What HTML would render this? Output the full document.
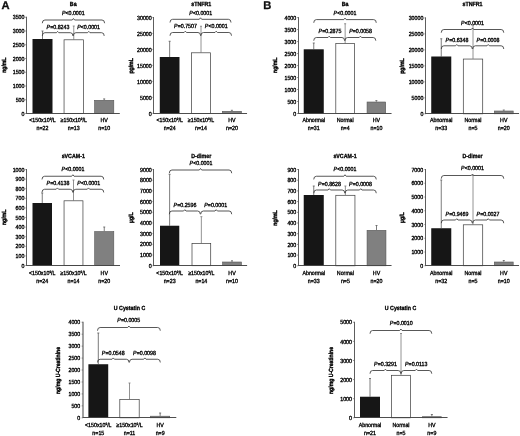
<!DOCTYPE html>
<html><head><meta charset="utf-8"><title>Figure</title>
<style>
html,body{margin:0;padding:0;background:#fff;}
body{width:520px;height:436px;overflow:hidden;}
svg{display:block;font-family:"Liberation Sans",sans-serif;text-rendering:geometricPrecision;}
</style></head><body>
<svg width="520" height="436" viewBox="0 0 520 436">
<defs><filter id="soft" x="0" y="0" width="520" height="436" filterUnits="userSpaceOnUse"><feGaussianBlur stdDeviation="0.25"/></filter></defs>
<rect width="520" height="436" fill="#fff"/>
<g filter="url(#soft)">
<path d="M42.50,39.00 V31.00 M41.50,31.00 H43.50" stroke="#5a5a5a" stroke-width="0.8" fill="none"/>
<rect x="32.50" y="39.00" width="20.00" height="74.50" fill="#141414"/>
<path d="M73.75,39.50 V26.00 M72.75,26.00 H74.75" stroke="#777" stroke-width="0.8" fill="none"/>
<rect x="64.05" y="39.80" width="19.40" height="73.70" fill="#fff" stroke="#3a3a3a" stroke-width="0.7"/>
<path d="M104.20,100.00 V98.90 M103.20,98.90 H105.20" stroke="#5a5a5a" stroke-width="0.8" fill="none"/>
<rect x="94.60" y="100.30" width="19.20" height="13.20" fill="#808080" stroke="#555" stroke-width="0.6"/>
<path d="M26.50,16.75 V113.50" fill="none" stroke="#555" stroke-width="0.95"/>
<path d="M26.05,113.50 H119.80" fill="none" stroke="#444" stroke-width="0.95"/>
<path d="M25.10,113.50 H26.50" stroke="#555" stroke-width="0.6"/>
<text transform="translate(24.50,115.65) scale(0.88,1)" text-anchor="end" font-size="6.0" fill="#000" stroke="#000" stroke-width="0.34">0</text>
<path d="M25.10,99.75 H26.50" stroke="#555" stroke-width="0.6"/>
<text transform="translate(24.50,101.90) scale(0.88,1)" text-anchor="end" font-size="6.0" fill="#000" stroke="#000" stroke-width="0.34">500</text>
<path d="M25.10,86.00 H26.50" stroke="#555" stroke-width="0.6"/>
<text transform="translate(24.50,88.15) scale(0.88,1)" text-anchor="end" font-size="6.0" fill="#000" stroke="#000" stroke-width="0.34">1000</text>
<path d="M25.10,72.25 H26.50" stroke="#555" stroke-width="0.6"/>
<text transform="translate(24.50,74.40) scale(0.88,1)" text-anchor="end" font-size="6.0" fill="#000" stroke="#000" stroke-width="0.34">1500</text>
<path d="M25.10,58.50 H26.50" stroke="#555" stroke-width="0.6"/>
<text transform="translate(24.50,60.65) scale(0.88,1)" text-anchor="end" font-size="6.0" fill="#000" stroke="#000" stroke-width="0.34">2000</text>
<path d="M25.10,44.75 H26.50" stroke="#555" stroke-width="0.6"/>
<text transform="translate(24.50,46.90) scale(0.88,1)" text-anchor="end" font-size="6.0" fill="#000" stroke="#000" stroke-width="0.34">2500</text>
<path d="M25.10,31.00 H26.50" stroke="#555" stroke-width="0.6"/>
<text transform="translate(24.50,33.15) scale(0.88,1)" text-anchor="end" font-size="6.0" fill="#000" stroke="#000" stroke-width="0.34">3000</text>
<path d="M25.10,17.25 H26.50" stroke="#555" stroke-width="0.6"/>
<text transform="translate(24.50,19.40) scale(0.88,1)" text-anchor="end" font-size="6.0" fill="#000" stroke="#000" stroke-width="0.34">3500</text>
<text transform="translate(73.20,5.80) scale(0.88,1)" text-anchor="middle" font-size="6.0" font-weight="bold" fill="#000" stroke="#000" stroke-width="0.32">Ba</text>
<text transform="translate(5.60,65.20) rotate(-90) scale(0.85,1)" text-anchor="middle" font-size="6.0" font-weight="bold" fill="#000" stroke="#000" stroke-width="0.42">ng/mL</text>
<text transform="translate(42.50,122.40) scale(0.88,1)" text-anchor="middle" font-size="6.0" fill="#000" stroke="#000" stroke-width="0.34">&lt;150x10<tspan font-size="3.5" dy="-2.0">9</tspan><tspan dy="2.0">/L</tspan></text>
<text transform="translate(42.50,130.10) scale(0.88,1)" text-anchor="middle" font-size="6.0" fill="#000" stroke="#000" stroke-width="0.34">n=22</text>
<text transform="translate(73.75,122.40) scale(0.88,1)" text-anchor="middle" font-size="6.0" fill="#000" stroke="#000" stroke-width="0.34">≥150x10<tspan font-size="3.5" dy="-2.0">9</tspan><tspan dy="2.0">/L</tspan></text>
<text transform="translate(73.75,130.10) scale(0.88,1)" text-anchor="middle" font-size="6.0" fill="#000" stroke="#000" stroke-width="0.34">n=13</text>
<text transform="translate(104.20,122.40) scale(0.88,1)" text-anchor="middle" font-size="6.0" fill="#000" stroke="#000" stroke-width="0.34">HV</text>
<text transform="translate(104.20,130.10) scale(0.88,1)" text-anchor="middle" font-size="6.0" fill="#000" stroke="#000" stroke-width="0.34">n=10</text>
<path d="M42.30,23.20 Q42.30,20.00 44.90,20.00 L72.25,20.00 L73.45,18.50 L74.65,20.00 L102.00,20.00 Q104.60,20.00 104.60,23.20" fill="none" stroke="#3a3a3a" stroke-width="0.85"/>
<text transform="translate(73.30,15.00) scale(0.88,1)" text-anchor="middle" font-size="6.0" fill="#000" stroke="#000" stroke-width="0.34"><tspan font-style="italic">P</tspan>&lt;0.0001</text>
<path d="M42.30,35.90 Q42.30,32.70 44.90,32.70 L56.40,32.70 L57.60,31.40 L58.80,32.70 L70.30,32.70 Q72.90,32.70 72.90,35.90" fill="none" stroke="#3a3a3a" stroke-width="0.85"/>
<text transform="translate(58.00,28.50) scale(0.88,1)" text-anchor="middle" font-size="6.0" fill="#000" stroke="#000" stroke-width="0.34"><tspan font-style="italic">P</tspan>=0.8243</text>
<path d="M73.30,35.90 Q73.30,32.70 75.90,32.70 L87.55,32.70 L88.75,31.40 L89.95,32.70 L101.60,32.70 Q104.20,32.70 104.20,35.90" fill="none" stroke="#3a3a3a" stroke-width="0.85"/>
<text transform="translate(88.60,28.50) scale(0.88,1)" text-anchor="middle" font-size="6.0" fill="#000" stroke="#000" stroke-width="0.34"><tspan font-style="italic">P</tspan>&lt;0.0001</text>
<path d="M169.65,57.00 V41.25 M168.65,41.25 H170.65" stroke="#5a5a5a" stroke-width="0.8" fill="none"/>
<rect x="159.80" y="57.00" width="19.70" height="56.40" fill="#141414"/>
<path d="M201.00,52.50 V26.25 M200.00,26.25 H202.00" stroke="#777" stroke-width="0.8" fill="none"/>
<rect x="191.55" y="52.80" width="18.90" height="60.60" fill="#fff" stroke="#3a3a3a" stroke-width="0.7"/>
<path d="M231.88,111.00 V110.30 M230.88,110.30 H232.88" stroke="#5a5a5a" stroke-width="0.8" fill="none"/>
<rect x="222.30" y="111.30" width="19.15" height="2.10" fill="#808080" stroke="#555" stroke-width="0.6"/>
<path d="M153.50,17.00 V113.50" fill="none" stroke="#555" stroke-width="0.95"/>
<path d="M153.05,113.50 H247.05" fill="none" stroke="#444" stroke-width="0.95"/>
<path d="M152.35,113.40 H153.75" stroke="#555" stroke-width="0.6"/>
<text transform="translate(151.75,115.55) scale(0.88,1)" text-anchor="end" font-size="6.0" fill="#000" stroke="#000" stroke-width="0.34">0</text>
<path d="M152.35,97.42 H153.75" stroke="#555" stroke-width="0.6"/>
<text transform="translate(151.75,99.57) scale(0.88,1)" text-anchor="end" font-size="6.0" fill="#000" stroke="#000" stroke-width="0.34">5000</text>
<path d="M152.35,81.43 H153.75" stroke="#555" stroke-width="0.6"/>
<text transform="translate(151.75,83.58) scale(0.88,1)" text-anchor="end" font-size="6.0" fill="#000" stroke="#000" stroke-width="0.34">10000</text>
<path d="M152.35,65.45 H153.75" stroke="#555" stroke-width="0.6"/>
<text transform="translate(151.75,67.60) scale(0.88,1)" text-anchor="end" font-size="6.0" fill="#000" stroke="#000" stroke-width="0.34">15000</text>
<path d="M152.35,49.47 H153.75" stroke="#555" stroke-width="0.6"/>
<text transform="translate(151.75,51.62) scale(0.88,1)" text-anchor="end" font-size="6.0" fill="#000" stroke="#000" stroke-width="0.34">20000</text>
<path d="M152.35,33.48 H153.75" stroke="#555" stroke-width="0.6"/>
<text transform="translate(151.75,35.63) scale(0.88,1)" text-anchor="end" font-size="6.0" fill="#000" stroke="#000" stroke-width="0.34">25000</text>
<path d="M152.35,17.50 H153.75" stroke="#555" stroke-width="0.6"/>
<text transform="translate(151.75,19.65) scale(0.88,1)" text-anchor="end" font-size="6.0" fill="#000" stroke="#000" stroke-width="0.34">30000</text>
<text transform="translate(201.25,6.00) scale(0.88,1)" text-anchor="middle" font-size="6.0" font-weight="bold" fill="#000" stroke="#000" stroke-width="0.32">sTNFR1</text>
<text transform="translate(133.40,65.90) rotate(-90) scale(0.85,1)" text-anchor="middle" font-size="6.0" font-weight="bold" fill="#000" stroke="#000" stroke-width="0.42">pg/mL</text>
<text transform="translate(169.65,122.10) scale(0.88,1)" text-anchor="middle" font-size="6.0" fill="#000" stroke="#000" stroke-width="0.34">&lt;150x10<tspan font-size="3.5" dy="-2.0">9</tspan><tspan dy="2.0">/L</tspan></text>
<text transform="translate(169.65,129.80) scale(0.88,1)" text-anchor="middle" font-size="6.0" fill="#000" stroke="#000" stroke-width="0.34">n=24</text>
<text transform="translate(201.00,122.10) scale(0.88,1)" text-anchor="middle" font-size="6.0" fill="#000" stroke="#000" stroke-width="0.34">≥150x10<tspan font-size="3.5" dy="-2.0">9</tspan><tspan dy="2.0">/L</tspan></text>
<text transform="translate(201.00,129.80) scale(0.88,1)" text-anchor="middle" font-size="6.0" fill="#000" stroke="#000" stroke-width="0.34">n=14</text>
<text transform="translate(231.88,122.10) scale(0.88,1)" text-anchor="middle" font-size="6.0" fill="#000" stroke="#000" stroke-width="0.34">HV</text>
<text transform="translate(231.88,129.80) scale(0.88,1)" text-anchor="middle" font-size="6.0" fill="#000" stroke="#000" stroke-width="0.34">n=20</text>
<path d="M170.00,22.50 Q170.00,19.30 172.60,19.30 L199.30,19.30 L200.50,17.80 L201.70,19.30 L228.40,19.30 Q231.00,19.30 231.00,22.50" fill="none" stroke="#3a3a3a" stroke-width="0.85"/>
<text transform="translate(200.75,14.60) scale(0.88,1)" text-anchor="middle" font-size="6.0" fill="#000" stroke="#000" stroke-width="0.34"><tspan font-style="italic">P</tspan>&lt;0.0001</text>
<path d="M170.00,35.70 Q170.00,32.50 172.60,32.50 L184.10,32.50 L185.30,31.20 L186.50,32.50 L198.00,32.50 Q200.60,32.50 200.60,35.70" fill="none" stroke="#3a3a3a" stroke-width="0.85"/>
<text transform="translate(185.50,28.10) scale(0.88,1)" text-anchor="middle" font-size="6.0" fill="#000" stroke="#000" stroke-width="0.34"><tspan font-style="italic">P</tspan>=0.7507</text>
<path d="M200.90,35.70 Q200.90,32.50 203.50,32.50 L215.00,32.50 L216.20,31.20 L217.40,32.50 L228.90,32.50 Q231.50,32.50 231.50,35.70" fill="none" stroke="#3a3a3a" stroke-width="0.85"/>
<text transform="translate(216.25,28.10) scale(0.88,1)" text-anchor="middle" font-size="6.0" fill="#000" stroke="#000" stroke-width="0.34"><tspan font-style="italic">P</tspan>&lt;0.0001</text>
<path d="M313.75,49.30 V43.00 M312.75,43.00 H314.75" stroke="#5a5a5a" stroke-width="0.8" fill="none"/>
<rect x="303.75" y="49.30" width="20.00" height="64.20" fill="#141414"/>
<path d="M345.15,43.30 V23.75 M344.15,23.75 H346.15" stroke="#777" stroke-width="0.8" fill="none"/>
<rect x="335.80" y="43.60" width="18.70" height="69.90" fill="#fff" stroke="#3a3a3a" stroke-width="0.7"/>
<path d="M376.38,101.70 V100.60 M375.38,100.60 H377.38" stroke="#5a5a5a" stroke-width="0.8" fill="none"/>
<rect x="367.05" y="102.00" width="18.65" height="11.50" fill="#808080" stroke="#555" stroke-width="0.6"/>
<path d="M298.50,17.10 V113.50" fill="none" stroke="#555" stroke-width="0.95"/>
<path d="M298.05,113.50 H391.55" fill="none" stroke="#444" stroke-width="0.95"/>
<path d="M296.85,113.50 H298.25" stroke="#555" stroke-width="0.6"/>
<text transform="translate(296.25,115.65) scale(0.88,1)" text-anchor="end" font-size="6.0" fill="#000" stroke="#000" stroke-width="0.34">0</text>
<path d="M296.85,101.51 H298.25" stroke="#555" stroke-width="0.6"/>
<text transform="translate(296.25,103.66) scale(0.88,1)" text-anchor="end" font-size="6.0" fill="#000" stroke="#000" stroke-width="0.34">500</text>
<path d="M296.85,89.53 H298.25" stroke="#555" stroke-width="0.6"/>
<text transform="translate(296.25,91.68) scale(0.88,1)" text-anchor="end" font-size="6.0" fill="#000" stroke="#000" stroke-width="0.34">1000</text>
<path d="M296.85,77.54 H298.25" stroke="#555" stroke-width="0.6"/>
<text transform="translate(296.25,79.69) scale(0.88,1)" text-anchor="end" font-size="6.0" fill="#000" stroke="#000" stroke-width="0.34">1500</text>
<path d="M296.85,65.55 H298.25" stroke="#555" stroke-width="0.6"/>
<text transform="translate(296.25,67.70) scale(0.88,1)" text-anchor="end" font-size="6.0" fill="#000" stroke="#000" stroke-width="0.34">2000</text>
<path d="M296.85,53.56 H298.25" stroke="#555" stroke-width="0.6"/>
<text transform="translate(296.25,55.71) scale(0.88,1)" text-anchor="end" font-size="6.0" fill="#000" stroke="#000" stroke-width="0.34">2500</text>
<path d="M296.85,41.58 H298.25" stroke="#555" stroke-width="0.6"/>
<text transform="translate(296.25,43.73) scale(0.88,1)" text-anchor="end" font-size="6.0" fill="#000" stroke="#000" stroke-width="0.34">3000</text>
<path d="M296.85,29.59 H298.25" stroke="#555" stroke-width="0.6"/>
<text transform="translate(296.25,31.74) scale(0.88,1)" text-anchor="end" font-size="6.0" fill="#000" stroke="#000" stroke-width="0.34">3500</text>
<path d="M296.85,17.60 H298.25" stroke="#555" stroke-width="0.6"/>
<text transform="translate(296.25,19.75) scale(0.88,1)" text-anchor="end" font-size="6.0" fill="#000" stroke="#000" stroke-width="0.34">4000</text>
<text transform="translate(345.00,5.80) scale(0.88,1)" text-anchor="middle" font-size="6.0" font-weight="bold" fill="#000" stroke="#000" stroke-width="0.32">Ba</text>
<text transform="translate(277.00,65.30) rotate(-90) scale(0.85,1)" text-anchor="middle" font-size="6.0" font-weight="bold" fill="#000" stroke="#000" stroke-width="0.42">ng/mL</text>
<text transform="translate(313.75,122.30) scale(0.88,1)" text-anchor="middle" font-size="6.0" fill="#000" stroke="#000" stroke-width="0.34">Abnormal</text>
<text transform="translate(313.75,130.40) scale(0.88,1)" text-anchor="middle" font-size="6.0" fill="#000" stroke="#000" stroke-width="0.34">n=31</text>
<text transform="translate(345.15,122.30) scale(0.88,1)" text-anchor="middle" font-size="6.0" fill="#000" stroke="#000" stroke-width="0.34">Normal</text>
<text transform="translate(345.15,130.40) scale(0.88,1)" text-anchor="middle" font-size="6.0" fill="#000" stroke="#000" stroke-width="0.34">n=4</text>
<text transform="translate(376.38,122.30) scale(0.88,1)" text-anchor="middle" font-size="6.0" fill="#000" stroke="#000" stroke-width="0.34">HV</text>
<text transform="translate(376.38,130.40) scale(0.88,1)" text-anchor="middle" font-size="6.0" fill="#000" stroke="#000" stroke-width="0.34">n=10</text>
<path d="M313.75,22.80 Q313.75,19.60 316.35,19.60 L343.80,19.60 L345.00,18.10 L346.20,19.60 L373.65,19.60 Q376.25,19.60 376.25,22.80" fill="none" stroke="#3a3a3a" stroke-width="0.85"/>
<text transform="translate(345.00,14.60) scale(0.88,1)" text-anchor="middle" font-size="6.0" fill="#000" stroke="#000" stroke-width="0.34"><tspan font-style="italic">P</tspan>&lt;0.0001</text>
<path d="M313.75,40.70 Q313.75,37.50 316.35,37.50 L327.98,37.50 L329.18,36.20 L330.38,37.50 L342.00,37.50 Q344.60,37.50 344.60,40.70" fill="none" stroke="#3a3a3a" stroke-width="0.85"/>
<text transform="translate(330.00,33.40) scale(0.88,1)" text-anchor="middle" font-size="6.0" fill="#000" stroke="#000" stroke-width="0.34"><tspan font-style="italic">P</tspan>=0.2875</text>
<path d="M345.00,40.70 Q345.00,37.50 347.60,37.50 L359.20,37.50 L360.40,36.20 L361.60,37.50 L373.20,37.50 Q375.80,37.50 375.80,40.70" fill="none" stroke="#3a3a3a" stroke-width="0.85"/>
<text transform="translate(360.60,33.40) scale(0.88,1)" text-anchor="middle" font-size="6.0" fill="#000" stroke="#000" stroke-width="0.34"><tspan font-style="italic">P</tspan>=0.0058</text>
<path d="M441.25,56.50 V38.75 M440.25,38.75 H442.25" stroke="#5a5a5a" stroke-width="0.8" fill="none"/>
<rect x="431.25" y="56.50" width="20.00" height="57.30" fill="#141414"/>
<path d="M473.00,58.75 V25.00 M472.00,25.00 H474.00" stroke="#777" stroke-width="0.8" fill="none"/>
<rect x="463.30" y="59.05" width="19.40" height="54.75" fill="#fff" stroke="#3a3a3a" stroke-width="0.7"/>
<path d="M503.75,110.70 V110.00 M502.75,110.00 H504.75" stroke="#5a5a5a" stroke-width="0.8" fill="none"/>
<rect x="494.30" y="111.00" width="18.90" height="2.80" fill="#808080" stroke="#555" stroke-width="0.6"/>
<path d="M425.50,17.40 V113.50" fill="none" stroke="#555" stroke-width="0.95"/>
<path d="M425.05,113.50 H519.05" fill="none" stroke="#444" stroke-width="0.95"/>
<path d="M424.35,113.80 H425.75" stroke="#555" stroke-width="0.6"/>
<text transform="translate(423.35,115.95) scale(0.88,1)" text-anchor="end" font-size="6.0" fill="#000" stroke="#000" stroke-width="0.34">0</text>
<path d="M424.35,97.82 H425.75" stroke="#555" stroke-width="0.6"/>
<text transform="translate(423.35,99.97) scale(0.88,1)" text-anchor="end" font-size="6.0" fill="#000" stroke="#000" stroke-width="0.34">5000</text>
<path d="M424.35,81.83 H425.75" stroke="#555" stroke-width="0.6"/>
<text transform="translate(423.35,83.98) scale(0.88,1)" text-anchor="end" font-size="6.0" fill="#000" stroke="#000" stroke-width="0.34">10000</text>
<path d="M424.35,65.85 H425.75" stroke="#555" stroke-width="0.6"/>
<text transform="translate(423.35,68.00) scale(0.88,1)" text-anchor="end" font-size="6.0" fill="#000" stroke="#000" stroke-width="0.34">15000</text>
<path d="M424.35,49.87 H425.75" stroke="#555" stroke-width="0.6"/>
<text transform="translate(423.35,52.02) scale(0.88,1)" text-anchor="end" font-size="6.0" fill="#000" stroke="#000" stroke-width="0.34">20000</text>
<path d="M424.35,33.88 H425.75" stroke="#555" stroke-width="0.6"/>
<text transform="translate(423.35,36.03) scale(0.88,1)" text-anchor="end" font-size="6.0" fill="#000" stroke="#000" stroke-width="0.34">25000</text>
<path d="M424.35,17.90 H425.75" stroke="#555" stroke-width="0.6"/>
<text transform="translate(423.35,20.05) scale(0.88,1)" text-anchor="end" font-size="6.0" fill="#000" stroke="#000" stroke-width="0.34">30000</text>
<text transform="translate(472.50,6.00) scale(0.88,1)" text-anchor="middle" font-size="6.0" font-weight="bold" fill="#000" stroke="#000" stroke-width="0.32">sTNFR1</text>
<text transform="translate(404.20,66.10) rotate(-90) scale(0.85,1)" text-anchor="middle" font-size="6.0" font-weight="bold" fill="#000" stroke="#000" stroke-width="0.42">pg/mL</text>
<text transform="translate(441.25,122.10) scale(0.88,1)" text-anchor="middle" font-size="6.0" fill="#000" stroke="#000" stroke-width="0.34">Abnormal</text>
<text transform="translate(441.25,130.30) scale(0.88,1)" text-anchor="middle" font-size="6.0" fill="#000" stroke="#000" stroke-width="0.34">n=33</text>
<text transform="translate(473.00,122.10) scale(0.88,1)" text-anchor="middle" font-size="6.0" fill="#000" stroke="#000" stroke-width="0.34">Normal</text>
<text transform="translate(473.00,130.30) scale(0.88,1)" text-anchor="middle" font-size="6.0" fill="#000" stroke="#000" stroke-width="0.34">n=5</text>
<text transform="translate(503.75,122.10) scale(0.88,1)" text-anchor="middle" font-size="6.0" fill="#000" stroke="#000" stroke-width="0.34">HV</text>
<text transform="translate(503.75,130.30) scale(0.88,1)" text-anchor="middle" font-size="6.0" fill="#000" stroke="#000" stroke-width="0.34">n=20</text>
<path d="M441.25,32.70 Q441.25,29.50 443.85,29.50 L471.30,29.50 L472.50,28.00 L473.70,29.50 L501.15,29.50 Q503.75,29.50 503.75,32.70" fill="none" stroke="#3a3a3a" stroke-width="0.85"/>
<text transform="translate(472.50,24.60) scale(0.88,1)" text-anchor="middle" font-size="6.0" fill="#000" stroke="#000" stroke-width="0.34"><tspan font-style="italic">P</tspan>&lt;0.0001</text>
<path d="M441.25,49.00 Q441.25,45.80 443.85,45.80 L455.57,45.80 L456.77,44.50 L457.97,45.80 L469.70,45.80 Q472.30,45.80 472.30,49.00" fill="none" stroke="#3a3a3a" stroke-width="0.85"/>
<text transform="translate(457.00,42.10) scale(0.88,1)" text-anchor="middle" font-size="6.0" fill="#000" stroke="#000" stroke-width="0.34"><tspan font-style="italic">P</tspan>=0.6348</text>
<path d="M472.70,49.00 Q472.70,45.80 475.30,45.80 L487.03,45.80 L488.23,44.50 L489.43,45.80 L501.15,45.80 Q503.75,45.80 503.75,49.00" fill="none" stroke="#3a3a3a" stroke-width="0.85"/>
<text transform="translate(488.00,42.10) scale(0.88,1)" text-anchor="middle" font-size="6.0" fill="#000" stroke="#000" stroke-width="0.34"><tspan font-style="italic">P</tspan>=0.0008</text>
<path d="M42.25,203.00 V193.00 M41.25,193.00 H43.25" stroke="#5a5a5a" stroke-width="0.8" fill="none"/>
<rect x="32.50" y="203.00" width="19.50" height="62.50" fill="#141414"/>
<path d="M73.50,200.50 V180.00 M72.50,180.00 H74.50" stroke="#777" stroke-width="0.8" fill="none"/>
<rect x="64.05" y="200.80" width="18.90" height="64.70" fill="#fff" stroke="#3a3a3a" stroke-width="0.7"/>
<path d="M104.25,231.25 V227.00 M103.25,227.00 H105.25" stroke="#5a5a5a" stroke-width="0.8" fill="none"/>
<rect x="94.70" y="231.55" width="19.10" height="33.95" fill="#808080" stroke="#555" stroke-width="0.6"/>
<path d="M26.50,169.00 V265.50" fill="none" stroke="#555" stroke-width="0.95"/>
<path d="M26.05,265.50 H120.00" fill="none" stroke="#444" stroke-width="0.95"/>
<path d="M25.30,265.50 H26.70" stroke="#555" stroke-width="0.6"/>
<text transform="translate(24.40,267.65) scale(0.88,1)" text-anchor="end" font-size="6.0" fill="#000" stroke="#000" stroke-width="0.34">0</text>
<path d="M25.30,255.90 H26.70" stroke="#555" stroke-width="0.6"/>
<text transform="translate(24.40,258.05) scale(0.88,1)" text-anchor="end" font-size="6.0" fill="#000" stroke="#000" stroke-width="0.34">100</text>
<path d="M25.30,246.30 H26.70" stroke="#555" stroke-width="0.6"/>
<text transform="translate(24.40,248.45) scale(0.88,1)" text-anchor="end" font-size="6.0" fill="#000" stroke="#000" stroke-width="0.34">200</text>
<path d="M25.30,236.70 H26.70" stroke="#555" stroke-width="0.6"/>
<text transform="translate(24.40,238.85) scale(0.88,1)" text-anchor="end" font-size="6.0" fill="#000" stroke="#000" stroke-width="0.34">300</text>
<path d="M25.30,227.10 H26.70" stroke="#555" stroke-width="0.6"/>
<text transform="translate(24.40,229.25) scale(0.88,1)" text-anchor="end" font-size="6.0" fill="#000" stroke="#000" stroke-width="0.34">400</text>
<path d="M25.30,217.50 H26.70" stroke="#555" stroke-width="0.6"/>
<text transform="translate(24.40,219.65) scale(0.88,1)" text-anchor="end" font-size="6.0" fill="#000" stroke="#000" stroke-width="0.34">500</text>
<path d="M25.30,207.90 H26.70" stroke="#555" stroke-width="0.6"/>
<text transform="translate(24.40,210.05) scale(0.88,1)" text-anchor="end" font-size="6.0" fill="#000" stroke="#000" stroke-width="0.34">600</text>
<path d="M25.30,198.30 H26.70" stroke="#555" stroke-width="0.6"/>
<text transform="translate(24.40,200.45) scale(0.88,1)" text-anchor="end" font-size="6.0" fill="#000" stroke="#000" stroke-width="0.34">700</text>
<path d="M25.30,188.70 H26.70" stroke="#555" stroke-width="0.6"/>
<text transform="translate(24.40,190.85) scale(0.88,1)" text-anchor="end" font-size="6.0" fill="#000" stroke="#000" stroke-width="0.34">800</text>
<path d="M25.30,179.10 H26.70" stroke="#555" stroke-width="0.6"/>
<text transform="translate(24.40,181.25) scale(0.88,1)" text-anchor="end" font-size="6.0" fill="#000" stroke="#000" stroke-width="0.34">900</text>
<path d="M25.30,169.50 H26.70" stroke="#555" stroke-width="0.6"/>
<text transform="translate(24.40,171.65) scale(0.88,1)" text-anchor="end" font-size="6.0" fill="#000" stroke="#000" stroke-width="0.34">1000</text>
<text transform="translate(73.25,157.60) scale(0.88,1)" text-anchor="middle" font-size="6.0" font-weight="bold" fill="#000" stroke="#000" stroke-width="0.32">sVCAM-1</text>
<text transform="translate(5.50,217.40) rotate(-90) scale(0.85,1)" text-anchor="middle" font-size="6.0" font-weight="bold" fill="#000" stroke="#000" stroke-width="0.42">ng/mL</text>
<text transform="translate(42.25,274.60) scale(0.88,1)" text-anchor="middle" font-size="6.0" fill="#000" stroke="#000" stroke-width="0.34">&lt;150x10<tspan font-size="3.5" dy="-2.0">9</tspan><tspan dy="2.0">/L</tspan></text>
<text transform="translate(42.25,282.60) scale(0.88,1)" text-anchor="middle" font-size="6.0" fill="#000" stroke="#000" stroke-width="0.34">n=24</text>
<text transform="translate(73.50,274.60) scale(0.88,1)" text-anchor="middle" font-size="6.0" fill="#000" stroke="#000" stroke-width="0.34">≥150x10<tspan font-size="3.5" dy="-2.0">9</tspan><tspan dy="2.0">/L</tspan></text>
<text transform="translate(73.50,282.60) scale(0.88,1)" text-anchor="middle" font-size="6.0" fill="#000" stroke="#000" stroke-width="0.34">n=14</text>
<text transform="translate(104.25,274.60) scale(0.88,1)" text-anchor="middle" font-size="6.0" fill="#000" stroke="#000" stroke-width="0.34">HV</text>
<text transform="translate(104.25,282.60) scale(0.88,1)" text-anchor="middle" font-size="6.0" fill="#000" stroke="#000" stroke-width="0.34">n=20</text>
<path d="M42.00,179.45 Q42.00,176.25 44.60,176.25 L71.67,176.25 L72.88,174.75 L74.08,176.25 L101.15,176.25 Q103.75,176.25 103.75,179.45" fill="none" stroke="#3a3a3a" stroke-width="0.85"/>
<text transform="translate(73.00,171.35) scale(0.88,1)" text-anchor="middle" font-size="6.0" fill="#000" stroke="#000" stroke-width="0.34"><tspan font-style="italic">P</tspan>&lt;0.0001</text>
<path d="M42.00,192.45 Q42.00,189.25 44.60,189.25 L56.20,189.25 L57.40,187.95 L58.60,189.25 L70.20,189.25 Q72.80,189.25 72.80,192.45" fill="none" stroke="#3a3a3a" stroke-width="0.85"/>
<text transform="translate(58.00,185.10) scale(0.88,1)" text-anchor="middle" font-size="6.0" fill="#000" stroke="#000" stroke-width="0.34"><tspan font-style="italic">P</tspan>=0.4138</text>
<path d="M73.20,192.45 Q73.20,189.25 75.80,189.25 L87.27,189.25 L88.47,187.95 L89.67,189.25 L101.15,189.25 Q103.75,189.25 103.75,192.45" fill="none" stroke="#3a3a3a" stroke-width="0.85"/>
<text transform="translate(88.75,185.10) scale(0.88,1)" text-anchor="middle" font-size="6.0" fill="#000" stroke="#000" stroke-width="0.34"><tspan font-style="italic">P</tspan>&lt;0.0001</text>
<path d="M169.62,225.75 V174.30 M168.62,174.30 H170.62" stroke="#5a5a5a" stroke-width="0.8" fill="none"/>
<rect x="160.00" y="225.75" width="19.25" height="39.95" fill="#141414"/>
<path d="M201.35,243.30 V216.70 M200.35,216.70 H202.35" stroke="#777" stroke-width="0.8" fill="none"/>
<rect x="192.00" y="243.60" width="18.70" height="22.10" fill="#fff" stroke="#3a3a3a" stroke-width="0.7"/>
<path d="M232.00,261.70 V260.80 M231.00,260.80 H233.00" stroke="#5a5a5a" stroke-width="0.8" fill="none"/>
<rect x="222.60" y="262.00" width="18.80" height="3.70" fill="#808080" stroke="#555" stroke-width="0.6"/>
<path d="M153.50,169.00 V265.50" fill="none" stroke="#555" stroke-width="0.95"/>
<path d="M153.05,265.50 H247.10" fill="none" stroke="#444" stroke-width="0.95"/>
<path d="M152.40,265.70 H153.80" stroke="#555" stroke-width="0.6"/>
<text transform="translate(151.80,267.85) scale(0.88,1)" text-anchor="end" font-size="6.0" fill="#000" stroke="#000" stroke-width="0.34">0</text>
<path d="M152.40,255.01 H153.80" stroke="#555" stroke-width="0.6"/>
<text transform="translate(151.80,257.16) scale(0.88,1)" text-anchor="end" font-size="6.0" fill="#000" stroke="#000" stroke-width="0.34">1000</text>
<path d="M152.40,244.32 H153.80" stroke="#555" stroke-width="0.6"/>
<text transform="translate(151.80,246.47) scale(0.88,1)" text-anchor="end" font-size="6.0" fill="#000" stroke="#000" stroke-width="0.34">2000</text>
<path d="M152.40,233.63 H153.80" stroke="#555" stroke-width="0.6"/>
<text transform="translate(151.80,235.78) scale(0.88,1)" text-anchor="end" font-size="6.0" fill="#000" stroke="#000" stroke-width="0.34">3000</text>
<path d="M152.40,222.94 H153.80" stroke="#555" stroke-width="0.6"/>
<text transform="translate(151.80,225.09) scale(0.88,1)" text-anchor="end" font-size="6.0" fill="#000" stroke="#000" stroke-width="0.34">4000</text>
<path d="M152.40,212.26 H153.80" stroke="#555" stroke-width="0.6"/>
<text transform="translate(151.80,214.41) scale(0.88,1)" text-anchor="end" font-size="6.0" fill="#000" stroke="#000" stroke-width="0.34">5000</text>
<path d="M152.40,201.57 H153.80" stroke="#555" stroke-width="0.6"/>
<text transform="translate(151.80,203.72) scale(0.88,1)" text-anchor="end" font-size="6.0" fill="#000" stroke="#000" stroke-width="0.34">6000</text>
<path d="M152.40,190.88 H153.80" stroke="#555" stroke-width="0.6"/>
<text transform="translate(151.80,193.03) scale(0.88,1)" text-anchor="end" font-size="6.0" fill="#000" stroke="#000" stroke-width="0.34">7000</text>
<path d="M152.40,180.19 H153.80" stroke="#555" stroke-width="0.6"/>
<text transform="translate(151.80,182.34) scale(0.88,1)" text-anchor="end" font-size="6.0" fill="#000" stroke="#000" stroke-width="0.34">8000</text>
<path d="M152.40,169.50 H153.80" stroke="#555" stroke-width="0.6"/>
<text transform="translate(151.80,171.65) scale(0.88,1)" text-anchor="end" font-size="6.0" fill="#000" stroke="#000" stroke-width="0.34">9000</text>
<text transform="translate(201.25,157.60) scale(0.88,1)" text-anchor="middle" font-size="6.0" font-weight="bold" fill="#000" stroke="#000" stroke-width="0.32">D-dimer</text>
<text transform="translate(133.00,217.70) rotate(-90) scale(0.85,1)" text-anchor="middle" font-size="6.0" font-weight="bold" fill="#000" stroke="#000" stroke-width="0.42">µg/L</text>
<text transform="translate(169.62,274.60) scale(0.88,1)" text-anchor="middle" font-size="6.0" fill="#000" stroke="#000" stroke-width="0.34">&lt;150x10<tspan font-size="3.5" dy="-2.0">9</tspan><tspan dy="2.0">/L</tspan></text>
<text transform="translate(169.62,282.60) scale(0.88,1)" text-anchor="middle" font-size="6.0" fill="#000" stroke="#000" stroke-width="0.34">n=23</text>
<text transform="translate(201.35,274.60) scale(0.88,1)" text-anchor="middle" font-size="6.0" fill="#000" stroke="#000" stroke-width="0.34">≥150x10<tspan font-size="3.5" dy="-2.0">9</tspan><tspan dy="2.0">/L</tspan></text>
<text transform="translate(201.35,282.60) scale(0.88,1)" text-anchor="middle" font-size="6.0" fill="#000" stroke="#000" stroke-width="0.34">n=14</text>
<text transform="translate(232.00,274.60) scale(0.88,1)" text-anchor="middle" font-size="6.0" fill="#000" stroke="#000" stroke-width="0.34">HV</text>
<text transform="translate(232.00,282.60) scale(0.88,1)" text-anchor="middle" font-size="6.0" fill="#000" stroke="#000" stroke-width="0.34">n=10</text>
<path d="M169.30,173.20 Q169.30,170.00 171.90,170.00 L199.30,170.00 L200.50,168.50 L201.70,170.00 L229.10,170.00 Q231.70,170.00 231.70,173.20" fill="none" stroke="#3a3a3a" stroke-width="0.85"/>
<text transform="translate(201.00,165.30) scale(0.88,1)" text-anchor="middle" font-size="6.0" fill="#000" stroke="#000" stroke-width="0.34"><tspan font-style="italic">P</tspan>&lt;0.0001</text>
<path d="M169.30,214.20 Q169.30,211.00 171.90,211.00 L183.60,211.00 L184.80,209.70 L186.00,211.00 L197.70,211.00 Q200.30,211.00 200.30,214.20" fill="none" stroke="#3a3a3a" stroke-width="0.85"/>
<text transform="translate(185.00,207.10) scale(0.88,1)" text-anchor="middle" font-size="6.0" fill="#000" stroke="#000" stroke-width="0.34"><tspan font-style="italic">P</tspan>=0.2596</text>
<path d="M200.70,214.20 Q200.70,211.00 203.30,211.00 L215.00,211.00 L216.20,209.70 L217.40,211.00 L229.10,211.00 Q231.70,211.00 231.70,214.20" fill="none" stroke="#3a3a3a" stroke-width="0.85"/>
<text transform="translate(215.70,207.10) scale(0.88,1)" text-anchor="middle" font-size="6.0" fill="#000" stroke="#000" stroke-width="0.34"><tspan font-style="italic">P</tspan>=0.0001</text>
<path d="M313.75,195.00 V186.00 M312.75,186.00 H314.75" stroke="#5a5a5a" stroke-width="0.8" fill="none"/>
<rect x="303.75" y="195.00" width="20.00" height="70.80" fill="#141414"/>
<path d="M345.38,195.00 V186.00 M344.38,186.00 H346.38" stroke="#777" stroke-width="0.8" fill="none"/>
<rect x="335.80" y="195.30" width="19.15" height="70.50" fill="#fff" stroke="#3a3a3a" stroke-width="0.7"/>
<path d="M376.50,230.00 V225.50 M375.50,225.50 H377.50" stroke="#5a5a5a" stroke-width="0.8" fill="none"/>
<rect x="367.05" y="230.30" width="18.90" height="35.50" fill="#808080" stroke="#555" stroke-width="0.6"/>
<path d="M298.50,169.00 V265.50" fill="none" stroke="#555" stroke-width="0.95"/>
<path d="M298.05,265.50 H391.55" fill="none" stroke="#444" stroke-width="0.95"/>
<path d="M296.85,265.80 H298.25" stroke="#555" stroke-width="0.6"/>
<text transform="translate(296.25,267.95) scale(0.88,1)" text-anchor="end" font-size="6.0" fill="#000" stroke="#000" stroke-width="0.34">0</text>
<path d="M296.85,255.10 H298.25" stroke="#555" stroke-width="0.6"/>
<text transform="translate(296.25,257.25) scale(0.88,1)" text-anchor="end" font-size="6.0" fill="#000" stroke="#000" stroke-width="0.34">100</text>
<path d="M296.85,244.40 H298.25" stroke="#555" stroke-width="0.6"/>
<text transform="translate(296.25,246.55) scale(0.88,1)" text-anchor="end" font-size="6.0" fill="#000" stroke="#000" stroke-width="0.34">200</text>
<path d="M296.85,233.70 H298.25" stroke="#555" stroke-width="0.6"/>
<text transform="translate(296.25,235.85) scale(0.88,1)" text-anchor="end" font-size="6.0" fill="#000" stroke="#000" stroke-width="0.34">300</text>
<path d="M296.85,223.00 H298.25" stroke="#555" stroke-width="0.6"/>
<text transform="translate(296.25,225.15) scale(0.88,1)" text-anchor="end" font-size="6.0" fill="#000" stroke="#000" stroke-width="0.34">400</text>
<path d="M296.85,212.30 H298.25" stroke="#555" stroke-width="0.6"/>
<text transform="translate(296.25,214.45) scale(0.88,1)" text-anchor="end" font-size="6.0" fill="#000" stroke="#000" stroke-width="0.34">500</text>
<path d="M296.85,201.60 H298.25" stroke="#555" stroke-width="0.6"/>
<text transform="translate(296.25,203.75) scale(0.88,1)" text-anchor="end" font-size="6.0" fill="#000" stroke="#000" stroke-width="0.34">600</text>
<path d="M296.85,190.90 H298.25" stroke="#555" stroke-width="0.6"/>
<text transform="translate(296.25,193.05) scale(0.88,1)" text-anchor="end" font-size="6.0" fill="#000" stroke="#000" stroke-width="0.34">700</text>
<path d="M296.85,180.20 H298.25" stroke="#555" stroke-width="0.6"/>
<text transform="translate(296.25,182.35) scale(0.88,1)" text-anchor="end" font-size="6.0" fill="#000" stroke="#000" stroke-width="0.34">800</text>
<path d="M296.85,169.50 H298.25" stroke="#555" stroke-width="0.6"/>
<text transform="translate(296.25,171.65) scale(0.88,1)" text-anchor="end" font-size="6.0" fill="#000" stroke="#000" stroke-width="0.34">900</text>
<text transform="translate(345.00,157.60) scale(0.88,1)" text-anchor="middle" font-size="6.0" font-weight="bold" fill="#000" stroke="#000" stroke-width="0.32">sVCAM-1</text>
<text transform="translate(277.00,218.00) rotate(-90) scale(0.85,1)" text-anchor="middle" font-size="6.0" font-weight="bold" fill="#000" stroke="#000" stroke-width="0.42">ng/mL</text>
<text transform="translate(313.75,274.60) scale(0.88,1)" text-anchor="middle" font-size="6.0" fill="#000" stroke="#000" stroke-width="0.34">Abnormal</text>
<text transform="translate(313.75,282.60) scale(0.88,1)" text-anchor="middle" font-size="6.0" fill="#000" stroke="#000" stroke-width="0.34">n=33</text>
<text transform="translate(345.38,274.60) scale(0.88,1)" text-anchor="middle" font-size="6.0" fill="#000" stroke="#000" stroke-width="0.34">Normal</text>
<text transform="translate(345.38,282.60) scale(0.88,1)" text-anchor="middle" font-size="6.0" fill="#000" stroke="#000" stroke-width="0.34">n=5</text>
<text transform="translate(376.50,274.60) scale(0.88,1)" text-anchor="middle" font-size="6.0" fill="#000" stroke="#000" stroke-width="0.34">HV</text>
<text transform="translate(376.50,282.60) scale(0.88,1)" text-anchor="middle" font-size="6.0" fill="#000" stroke="#000" stroke-width="0.34">n=20</text>
<path d="M313.75,179.45 Q313.75,176.25 316.35,176.25 L343.80,176.25 L345.00,174.75 L346.20,176.25 L373.65,176.25 Q376.25,176.25 376.25,179.45" fill="none" stroke="#3a3a3a" stroke-width="0.85"/>
<text transform="translate(345.00,171.35) scale(0.88,1)" text-anchor="middle" font-size="6.0" fill="#000" stroke="#000" stroke-width="0.34"><tspan font-style="italic">P</tspan>&lt;0.0001</text>
<path d="M313.75,193.20 Q313.75,190.00 316.35,190.00 L328.07,190.00 L329.27,188.70 L330.47,190.00 L342.20,190.00 Q344.80,190.00 344.80,193.20" fill="none" stroke="#3a3a3a" stroke-width="0.85"/>
<text transform="translate(329.50,186.35) scale(0.88,1)" text-anchor="middle" font-size="6.0" fill="#000" stroke="#000" stroke-width="0.34"><tspan font-style="italic">P</tspan>=0.8628</text>
<path d="M345.20,193.20 Q345.20,190.00 347.80,190.00 L359.53,190.00 L360.73,188.70 L361.93,190.00 L373.65,190.00 Q376.25,190.00 376.25,193.20" fill="none" stroke="#3a3a3a" stroke-width="0.85"/>
<text transform="translate(360.50,186.35) scale(0.88,1)" text-anchor="middle" font-size="6.0" fill="#000" stroke="#000" stroke-width="0.34"><tspan font-style="italic">P</tspan>=0.0008</text>
<path d="M441.25,228.25 V180.00 M440.25,180.00 H442.25" stroke="#5a5a5a" stroke-width="0.8" fill="none"/>
<rect x="431.25" y="228.25" width="20.00" height="37.50" fill="#141414"/>
<path d="M473.00,224.50 V175.50 M472.00,175.50 H474.00" stroke="#777" stroke-width="0.8" fill="none"/>
<rect x="463.30" y="224.80" width="19.40" height="40.95" fill="#fff" stroke="#3a3a3a" stroke-width="0.7"/>
<path d="M503.75,261.70 V260.50 M502.75,260.50 H504.75" stroke="#5a5a5a" stroke-width="0.8" fill="none"/>
<rect x="494.30" y="262.00" width="18.90" height="3.75" fill="#808080" stroke="#555" stroke-width="0.6"/>
<path d="M425.50,169.00 V265.50" fill="none" stroke="#555" stroke-width="0.95"/>
<path d="M425.05,265.50 H519.05" fill="none" stroke="#444" stroke-width="0.95"/>
<path d="M424.35,265.75 H425.75" stroke="#555" stroke-width="0.6"/>
<text transform="translate(423.15,267.90) scale(0.88,1)" text-anchor="end" font-size="6.0" fill="#000" stroke="#000" stroke-width="0.34">0</text>
<path d="M424.35,252.00 H425.75" stroke="#555" stroke-width="0.6"/>
<text transform="translate(423.15,254.15) scale(0.88,1)" text-anchor="end" font-size="6.0" fill="#000" stroke="#000" stroke-width="0.34">1000</text>
<path d="M424.35,238.25 H425.75" stroke="#555" stroke-width="0.6"/>
<text transform="translate(423.15,240.40) scale(0.88,1)" text-anchor="end" font-size="6.0" fill="#000" stroke="#000" stroke-width="0.34">2000</text>
<path d="M424.35,224.50 H425.75" stroke="#555" stroke-width="0.6"/>
<text transform="translate(423.15,226.65) scale(0.88,1)" text-anchor="end" font-size="6.0" fill="#000" stroke="#000" stroke-width="0.34">3000</text>
<path d="M424.35,210.75 H425.75" stroke="#555" stroke-width="0.6"/>
<text transform="translate(423.15,212.90) scale(0.88,1)" text-anchor="end" font-size="6.0" fill="#000" stroke="#000" stroke-width="0.34">4000</text>
<path d="M424.35,197.00 H425.75" stroke="#555" stroke-width="0.6"/>
<text transform="translate(423.15,199.15) scale(0.88,1)" text-anchor="end" font-size="6.0" fill="#000" stroke="#000" stroke-width="0.34">5000</text>
<path d="M424.35,183.25 H425.75" stroke="#555" stroke-width="0.6"/>
<text transform="translate(423.15,185.40) scale(0.88,1)" text-anchor="end" font-size="6.0" fill="#000" stroke="#000" stroke-width="0.34">6000</text>
<path d="M424.35,169.50 H425.75" stroke="#555" stroke-width="0.6"/>
<text transform="translate(423.15,171.65) scale(0.88,1)" text-anchor="end" font-size="6.0" fill="#000" stroke="#000" stroke-width="0.34">7000</text>
<text transform="translate(472.50,157.60) scale(0.88,1)" text-anchor="middle" font-size="6.0" font-weight="bold" fill="#000" stroke="#000" stroke-width="0.32">D-dimer</text>
<text transform="translate(404.20,217.60) rotate(-90) scale(0.85,1)" text-anchor="middle" font-size="6.0" font-weight="bold" fill="#000" stroke="#000" stroke-width="0.42">µg/L</text>
<text transform="translate(441.25,274.60) scale(0.88,1)" text-anchor="middle" font-size="6.0" fill="#000" stroke="#000" stroke-width="0.34">Abnormal</text>
<text transform="translate(441.25,282.60) scale(0.88,1)" text-anchor="middle" font-size="6.0" fill="#000" stroke="#000" stroke-width="0.34">n=32</text>
<text transform="translate(473.00,274.60) scale(0.88,1)" text-anchor="middle" font-size="6.0" fill="#000" stroke="#000" stroke-width="0.34">Normal</text>
<text transform="translate(473.00,282.60) scale(0.88,1)" text-anchor="middle" font-size="6.0" fill="#000" stroke="#000" stroke-width="0.34">n=5</text>
<text transform="translate(503.75,274.60) scale(0.88,1)" text-anchor="middle" font-size="6.0" fill="#000" stroke="#000" stroke-width="0.34">HV</text>
<text transform="translate(503.75,282.60) scale(0.88,1)" text-anchor="middle" font-size="6.0" fill="#000" stroke="#000" stroke-width="0.34">n=10</text>
<path d="M441.25,178.70 Q441.25,175.50 443.85,175.50 L471.30,175.50 L472.50,174.00 L473.70,175.50 L501.15,175.50 Q503.75,175.50 503.75,178.70" fill="none" stroke="#3a3a3a" stroke-width="0.85"/>
<text transform="translate(472.50,170.35) scale(0.88,1)" text-anchor="middle" font-size="6.0" fill="#000" stroke="#000" stroke-width="0.34"><tspan font-style="italic">P</tspan>&lt;0.0001</text>
<path d="M441.25,223.20 Q441.25,220.00 443.85,220.00 L455.57,220.00 L456.77,218.70 L457.97,220.00 L469.70,220.00 Q472.30,220.00 472.30,223.20" fill="none" stroke="#3a3a3a" stroke-width="0.85"/>
<text transform="translate(457.00,215.85) scale(0.88,1)" text-anchor="middle" font-size="6.0" fill="#000" stroke="#000" stroke-width="0.34"><tspan font-style="italic">P</tspan>=0.9469</text>
<path d="M472.70,223.20 Q472.70,220.00 475.30,220.00 L487.03,220.00 L488.23,218.70 L489.43,220.00 L501.15,220.00 Q503.75,220.00 503.75,223.20" fill="none" stroke="#3a3a3a" stroke-width="0.85"/>
<text transform="translate(488.00,215.85) scale(0.88,1)" text-anchor="middle" font-size="6.0" fill="#000" stroke="#000" stroke-width="0.34"><tspan font-style="italic">P</tspan>=0.0027</text>
<path d="M98.30,364.25 V333.00 M97.30,333.00 H99.30" stroke="#5a5a5a" stroke-width="0.8" fill="none"/>
<rect x="88.40" y="364.25" width="19.80" height="53.55" fill="#141414"/>
<path d="M129.50,399.25 V383.00 M128.50,383.00 H130.50" stroke="#777" stroke-width="0.8" fill="none"/>
<rect x="119.80" y="399.55" width="19.40" height="18.25" fill="#fff" stroke="#3a3a3a" stroke-width="0.7"/>
<path d="M160.15,415.90 V413.00 M159.15,413.00 H161.15" stroke="#5a5a5a" stroke-width="0.8" fill="none"/>
<rect x="150.60" y="416.20" width="19.10" height="1.60" fill="#808080" stroke="#555" stroke-width="0.6"/>
<path d="M83.00,321.75 V417.50" fill="none" stroke="#555" stroke-width="1.1"/>
<path d="M82.55,417.50 H176.30" fill="none" stroke="#444" stroke-width="0.95"/>
<path d="M81.60,417.80 H83.00" stroke="#555" stroke-width="0.6"/>
<text transform="translate(80.20,419.95) scale(0.88,1)" text-anchor="end" font-size="6.0" fill="#000" stroke="#000" stroke-width="0.34">0</text>
<path d="M81.60,405.86 H83.00" stroke="#555" stroke-width="0.6"/>
<text transform="translate(80.20,408.01) scale(0.88,1)" text-anchor="end" font-size="6.0" fill="#000" stroke="#000" stroke-width="0.34">500</text>
<path d="M81.60,393.91 H83.00" stroke="#555" stroke-width="0.6"/>
<text transform="translate(80.20,396.06) scale(0.88,1)" text-anchor="end" font-size="6.0" fill="#000" stroke="#000" stroke-width="0.34">1000</text>
<path d="M81.60,381.97 H83.00" stroke="#555" stroke-width="0.6"/>
<text transform="translate(80.20,384.12) scale(0.88,1)" text-anchor="end" font-size="6.0" fill="#000" stroke="#000" stroke-width="0.34">1500</text>
<path d="M81.60,370.02 H83.00" stroke="#555" stroke-width="0.6"/>
<text transform="translate(80.20,372.17) scale(0.88,1)" text-anchor="end" font-size="6.0" fill="#000" stroke="#000" stroke-width="0.34">2000</text>
<path d="M81.60,358.08 H83.00" stroke="#555" stroke-width="0.6"/>
<text transform="translate(80.20,360.23) scale(0.88,1)" text-anchor="end" font-size="6.0" fill="#000" stroke="#000" stroke-width="0.34">2500</text>
<path d="M81.60,346.14 H83.00" stroke="#555" stroke-width="0.6"/>
<text transform="translate(80.20,348.29) scale(0.88,1)" text-anchor="end" font-size="6.0" fill="#000" stroke="#000" stroke-width="0.34">3000</text>
<path d="M81.60,334.19 H83.00" stroke="#555" stroke-width="0.6"/>
<text transform="translate(80.20,336.34) scale(0.88,1)" text-anchor="end" font-size="6.0" fill="#000" stroke="#000" stroke-width="0.34">3500</text>
<path d="M81.60,322.25 H83.00" stroke="#555" stroke-width="0.6"/>
<text transform="translate(80.20,324.40) scale(0.88,1)" text-anchor="end" font-size="6.0" fill="#000" stroke="#000" stroke-width="0.34">4000</text>
<text transform="translate(129.50,310.10) scale(0.88,1)" text-anchor="middle" font-size="6.0" font-weight="bold" fill="#000" stroke="#000" stroke-width="0.32">U Cystatin C</text>
<text transform="translate(60.40,370.50) rotate(-90) scale(0.85,1)" text-anchor="middle" font-size="6.0" font-weight="bold" fill="#000" stroke="#000" stroke-width="0.42">ng/mg U-Creatinine</text>
<text transform="translate(98.30,427.10) scale(0.88,1)" text-anchor="middle" font-size="6.0" fill="#000" stroke="#000" stroke-width="0.34">&lt;150x10<tspan font-size="3.5" dy="-2.0">9</tspan><tspan dy="2.0">/L</tspan></text>
<text transform="translate(98.30,434.60) scale(0.88,1)" text-anchor="middle" font-size="6.0" fill="#000" stroke="#000" stroke-width="0.34">n=15</text>
<text transform="translate(129.50,427.10) scale(0.88,1)" text-anchor="middle" font-size="6.0" fill="#000" stroke="#000" stroke-width="0.34">≥150x10<tspan font-size="3.5" dy="-2.0">9</tspan><tspan dy="2.0">/L</tspan></text>
<text transform="translate(129.50,434.60) scale(0.88,1)" text-anchor="middle" font-size="6.0" fill="#000" stroke="#000" stroke-width="0.34">n=11</text>
<text transform="translate(160.15,427.10) scale(0.88,1)" text-anchor="middle" font-size="6.0" fill="#000" stroke="#000" stroke-width="0.34">HV</text>
<text transform="translate(160.15,434.60) scale(0.88,1)" text-anchor="middle" font-size="6.0" fill="#000" stroke="#000" stroke-width="0.34">n=9</text>
<path d="M97.50,330.70 Q97.50,327.50 100.10,327.50 L127.70,327.50 L128.90,326.00 L130.10,327.50 L157.70,327.50 Q160.30,327.50 160.30,330.70" fill="none" stroke="#3a3a3a" stroke-width="0.85"/>
<text transform="translate(128.75,322.10) scale(0.88,1)" text-anchor="middle" font-size="6.0" fill="#000" stroke="#000" stroke-width="0.34"><tspan font-style="italic">P</tspan>=0.0005</text>
<path d="M97.50,362.45 Q97.50,359.25 100.10,359.25 L112.05,359.25 L113.25,357.95 L114.45,359.25 L126.40,359.25 Q129.00,359.25 129.00,362.45" fill="none" stroke="#3a3a3a" stroke-width="0.85"/>
<text transform="translate(113.25,354.60) scale(0.88,1)" text-anchor="middle" font-size="6.0" fill="#000" stroke="#000" stroke-width="0.34"><tspan font-style="italic">P</tspan>=0.0548</text>
<path d="M129.40,362.45 Q129.40,359.25 132.00,359.25 L143.65,359.25 L144.85,357.95 L146.05,359.25 L157.70,359.25 Q160.30,359.25 160.30,362.45" fill="none" stroke="#3a3a3a" stroke-width="0.85"/>
<text transform="translate(144.50,354.60) scale(0.88,1)" text-anchor="middle" font-size="6.0" fill="#000" stroke="#000" stroke-width="0.34"><tspan font-style="italic">P</tspan>=0.0098</text>
<path d="M370.00,396.75 V378.50 M369.00,378.50 H371.00" stroke="#5a5a5a" stroke-width="0.8" fill="none"/>
<rect x="360.00" y="396.75" width="20.00" height="21.05" fill="#141414"/>
<path d="M401.00,375.00 V333.50 M400.00,333.50 H402.00" stroke="#777" stroke-width="0.8" fill="none"/>
<rect x="391.55" y="375.30" width="18.90" height="42.50" fill="#fff" stroke="#3a3a3a" stroke-width="0.7"/>
<path d="M431.85,416.40 V414.50 M430.85,414.50 H432.85" stroke="#5a5a5a" stroke-width="0.8" fill="none"/>
<rect x="422.30" y="416.70" width="19.10" height="1.10" fill="#808080" stroke="#555" stroke-width="0.6"/>
<path d="M354.50,321.75 V417.50" fill="none" stroke="#555" stroke-width="0.95"/>
<path d="M354.05,417.50 H447.55" fill="none" stroke="#444" stroke-width="0.95"/>
<path d="M352.85,417.80 H354.25" stroke="#555" stroke-width="0.6"/>
<text transform="translate(351.95,419.95) scale(0.88,1)" text-anchor="end" font-size="6.0" fill="#000" stroke="#000" stroke-width="0.34">0</text>
<path d="M352.85,398.69 H354.25" stroke="#555" stroke-width="0.6"/>
<text transform="translate(351.95,400.84) scale(0.88,1)" text-anchor="end" font-size="6.0" fill="#000" stroke="#000" stroke-width="0.34">1000</text>
<path d="M352.85,379.58 H354.25" stroke="#555" stroke-width="0.6"/>
<text transform="translate(351.95,381.73) scale(0.88,1)" text-anchor="end" font-size="6.0" fill="#000" stroke="#000" stroke-width="0.34">2000</text>
<path d="M352.85,360.47 H354.25" stroke="#555" stroke-width="0.6"/>
<text transform="translate(351.95,362.62) scale(0.88,1)" text-anchor="end" font-size="6.0" fill="#000" stroke="#000" stroke-width="0.34">3000</text>
<path d="M352.85,341.36 H354.25" stroke="#555" stroke-width="0.6"/>
<text transform="translate(351.95,343.51) scale(0.88,1)" text-anchor="end" font-size="6.0" fill="#000" stroke="#000" stroke-width="0.34">4000</text>
<path d="M352.85,322.25 H354.25" stroke="#555" stroke-width="0.6"/>
<text transform="translate(351.95,324.40) scale(0.88,1)" text-anchor="end" font-size="6.0" fill="#000" stroke="#000" stroke-width="0.34">5000</text>
<text transform="translate(400.50,310.10) scale(0.88,1)" text-anchor="middle" font-size="6.0" font-weight="bold" fill="#000" stroke="#000" stroke-width="0.32">U Cystatin C</text>
<text transform="translate(332.50,370.50) rotate(-90) scale(0.85,1)" text-anchor="middle" font-size="6.0" font-weight="bold" fill="#000" stroke="#000" stroke-width="0.42">ng/mg U-Creatinine</text>
<text transform="translate(370.00,427.10) scale(0.88,1)" text-anchor="middle" font-size="6.0" fill="#000" stroke="#000" stroke-width="0.34">Abnormal</text>
<text transform="translate(370.00,434.60) scale(0.88,1)" text-anchor="middle" font-size="6.0" fill="#000" stroke="#000" stroke-width="0.34">n=21</text>
<text transform="translate(401.00,427.10) scale(0.88,1)" text-anchor="middle" font-size="6.0" fill="#000" stroke="#000" stroke-width="0.34">Normal</text>
<text transform="translate(401.00,434.60) scale(0.88,1)" text-anchor="middle" font-size="6.0" fill="#000" stroke="#000" stroke-width="0.34">n=5</text>
<text transform="translate(431.85,427.10) scale(0.88,1)" text-anchor="middle" font-size="6.0" fill="#000" stroke="#000" stroke-width="0.34">HV</text>
<text transform="translate(431.85,434.60) scale(0.88,1)" text-anchor="middle" font-size="6.0" fill="#000" stroke="#000" stroke-width="0.34">n=9</text>
<path d="M370.00,333.70 Q370.00,330.50 372.60,330.50 L399.68,330.50 L400.88,329.00 L402.07,330.50 L429.15,330.50 Q431.75,330.50 431.75,333.70" fill="none" stroke="#3a3a3a" stroke-width="0.85"/>
<text transform="translate(401.25,325.10) scale(0.88,1)" text-anchor="middle" font-size="6.0" fill="#000" stroke="#000" stroke-width="0.34"><tspan font-style="italic">P</tspan>=0.0010</text>
<path d="M370.00,373.70 Q370.00,370.50 372.60,370.50 L384.20,370.50 L385.40,369.20 L386.60,370.50 L398.20,370.50 Q400.80,370.50 400.80,373.70" fill="none" stroke="#3a3a3a" stroke-width="0.85"/>
<text transform="translate(385.50,366.35) scale(0.88,1)" text-anchor="middle" font-size="6.0" fill="#000" stroke="#000" stroke-width="0.34"><tspan font-style="italic">P</tspan>=0.3291</text>
<path d="M401.20,373.70 Q401.20,370.50 403.80,370.50 L415.28,370.50 L416.48,369.20 L417.68,370.50 L429.15,370.50 Q431.75,370.50 431.75,373.70" fill="none" stroke="#3a3a3a" stroke-width="0.85"/>
<text transform="translate(416.25,366.35) scale(0.88,1)" text-anchor="middle" font-size="6.0" fill="#000" stroke="#000" stroke-width="0.34"><tspan font-style="italic">P</tspan>=0.0113</text>
<text transform="translate(1.60,9.10) scale(1.0,1)" text-anchor="start" font-size="11.2" font-weight="bold" fill="#111" stroke="#111" stroke-width="0.32">A</text>
<text transform="translate(263.30,9.00) scale(1.0,1)" text-anchor="start" font-size="11.2" font-weight="bold" fill="#111" stroke="#111" stroke-width="0.32">B</text>
</g>
</svg>
</body></html>
